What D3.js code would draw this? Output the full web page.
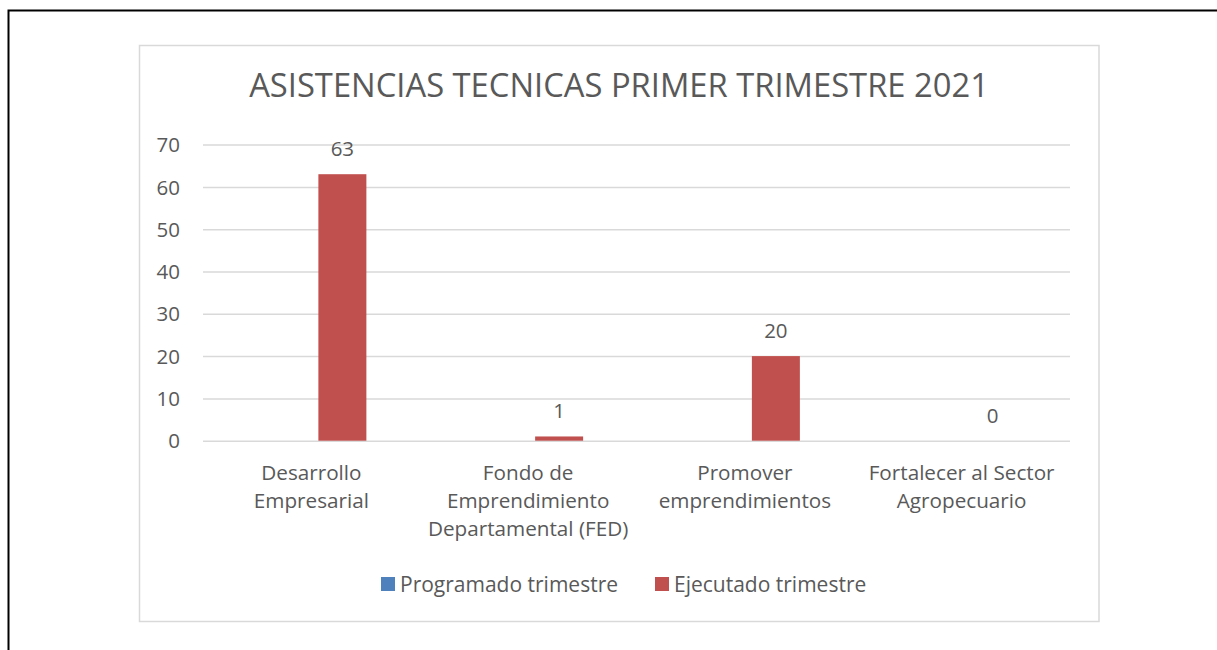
<!DOCTYPE html>
<html>
<head>
<meta charset="utf-8">
<script src="https://cdn.jsdelivr.net/npm/d3@7"></script>
<style>
  body { margin: 0; background: #fff; }
  text { font-family: "Open Sans", "Noto Sans", sans-serif; fill: #595959; }
</style>
</head>
<body>
<svg width="1217" height="650"></svg>
<script>
const categories = [
  "Desarrollo Empresarial",
  "Fondo de Emprendimiento Departamental (FED)",
  "Promover emprendimientos",
  "Fortalecer al Sector Agropecuario"
];
// how Excel wrapped each category label
const categoryLines = [
  ["Desarrollo", "Empresarial"],
  ["Fondo de", "Emprendimiento", "Departamental (FED)"],
  ["Promover", "emprendimientos"],
  ["Fortalecer al Sector", "Agropecuario"]
];
const seriesNames = ["Programado trimestre", "Ejecutado trimestre"];
const programado = [0, 0, 0, 0];
const ejecutado = [63, 1, 20, 0];
const yTicks = [0, 10, 20, 30, 40, 50, 60, 70];
const colors = ["#4f81bd", "#c0504d"];
const title = "ASISTENCIAS TECNICAS PRIMER TRIMESTRE 2021";

const svg = d3.select("svg");

// page border (left + top only)
svg.append("path")
  .attr("d", "M8.5,650V10.5H1217")
  .attr("fill", "none")
  .attr("stroke", "#000")
  .attr("stroke-width", 2);

// chart frame
svg.append("rect")
  .attr("x", 139.5).attr("y", 45.5)
  .attr("width", 959.5).attr("height", 576)
  .attr("fill", "#fff")
  .attr("stroke", "#d9d9d9")
  .attr("stroke-width", 1.5);

const plot = { left: 203, right: 1070, top: 144.6, bottom: 440.7 };

const x0 = d3.scaleBand()
  .domain(categories)
  .range([plot.left, plot.right])
  .padding(0);

const bw = x0.bandwidth();
const x1 = d3.scaleBand()
  .domain(seriesNames)
  .range([bw / 2 - 55, bw / 2 + 55])
  .paddingInner(0.226);

const y = d3.scaleLinear()
  .domain([0, 70])
  .range([plot.bottom, plot.top]);

// y axis with gridlines
const yAxis = svg.append("g")
  .attr("transform", `translate(${plot.left},0)`)
  .call(d3.axisLeft(y)
    .tickValues(yTicks)
    .tickSize(-(plot.right - plot.left))
    .tickPadding(23));
yAxis.select(".domain").remove();
yAxis.selectAll(".tick line")
  .attr("stroke", "#d9d9d9")
  .attr("stroke-width", 1.5);
yAxis.selectAll(".tick text")
  .attr("font-size", 20.5)
  .attr("font-family", "Open Sans")
  .attr("fill", "#595959")
  .attr("dy", "0.35em");

// bars
const rows = categories.map((c, i) => ({ cat: c, vals: [programado[i], ejecutado[i]] }));

const groups = svg.append("g")
  .selectAll("g")
  .data(rows)
  .enter()
  .append("g")
  .attr("transform", d => `translate(${x0(d.cat)},0)`);

groups.selectAll("rect")
  .data(d => d.vals.map((v, j) => ({ s: seriesNames[j], v: v, j: j })))
  .enter()
  .append("rect")
  .attr("x", d => x1(d.s))
  .attr("y", d => y(d.v))
  .attr("width", x1.bandwidth())
  .attr("height", d => y(0) - y(d.v))
  .attr("fill", d => colors[d.j]);

// data labels for Ejecutado only
groups.append("text")
  .attr("x", x1(seriesNames[1]) + x1.bandwidth() / 2)
  .attr("y", d => y(d.vals[1]) - 18)
  .attr("text-anchor", "middle")
  .attr("font-size", 20.5)
  .text(d => d.vals[1]);

// category labels
svg.append("g")
  .selectAll("text")
  .data(categories)
  .enter()
  .append("text")
  .attr("text-anchor", "middle")
  .attr("font-size", 20.7)
  .each(function(d, i) {
    const t = d3.select(this);
    categoryLines[i].forEach((line, k) => {
      t.append("tspan")
        .attr("x", x0(d) + bw / 2)
        .attr("y", 480 + k * 28)
        .text(line);
    });
  });

// title
const titleText = svg.append("text")
  .attr("x", 619)
  .attr("y", 97)
  .attr("text-anchor", "middle")
  .attr("font-size", 33)
  .text(title);
const tw = titleText.node().getComputedTextLength();
titleText.attr("font-size", 33 * 740 / tw);

// legend
const legendX = [381, 655];
const legend = svg.append("g")
  .selectAll("g")
  .data(seriesNames)
  .enter()
  .append("g")
  .attr("transform", (d, i) => `translate(${legendX[i]},577)`);

legend.append("rect")
  .attr("width", 14)
  .attr("height", 14)
  .attr("fill", (d, i) => colors[i]);

legend.append("text")
  .attr("x", 19)
  .attr("y", 14.5)
  .attr("font-size", 21)
  .text(d => d);
</script>
</body>
</html>
